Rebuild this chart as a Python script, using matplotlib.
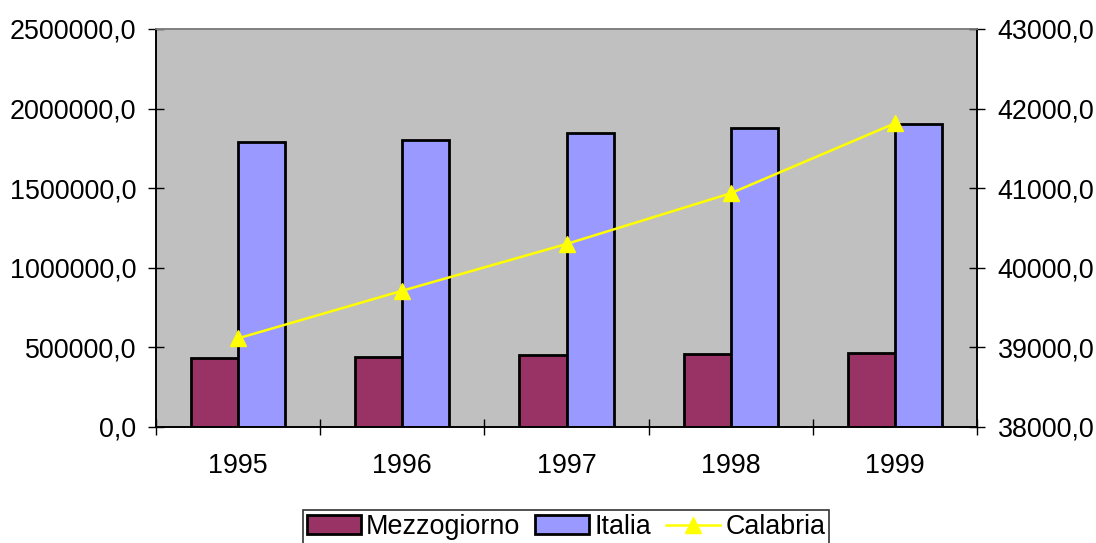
import matplotlib
matplotlib.use("Agg")
import matplotlib.pyplot as plt
import numpy as np
from matplotlib.ticker import FuncFormatter, FixedLocator

years = ["1995", "1996", "1997", "1998", "1999"]
mezzogiorno = [433400, 437800, 450300, 460400, 466700]
italia = [1788300, 1804700, 1844800, 1876000, 1905200]
calabria = [39114, 39712, 40299, 40936, 41815]

plt.rcParams['font.family'] = ['Liberation Sans', 'DejaVu Sans']
FS = 19.4

fig = plt.figure(figsize=(10.96, 5.43), dpi=100)
ax = fig.add_axes([156/1096, 1-427/543, (977-156)/1096, (427-29)/543])
ax.set_facecolor('#C0C0C0')

x = np.arange(len(years))
w = 0.287
ax.bar(x - w/2, mezzogiorno, w, color='#993366', edgecolor='black', linewidth=2.0, label='Mezzogiorno', zorder=2)
ax.bar(x + w/2, italia, w, color='#9999FF', edgecolor='black', linewidth=2.0, label='Italia', zorder=2)
ax.set_xlim(-0.5, len(years) - 0.5)
ax.set_ylim(0, 2500000)
ax.set_yticks(np.arange(0, 2500001, 500000))
fmt = FuncFormatter(lambda v, p: f"{v:.1f}".replace('.', ','))
ax.yaxis.set_major_formatter(fmt)
ax.set_xticks(x)
ax.set_xticklabels(years)
ax.xaxis.set_minor_locator(FixedLocator(np.arange(-0.5, len(years), 1.0)))
ax.tick_params(axis='x', which='major', length=0, pad=19, labelsize=FS)
ax.tick_params(axis='x', which='minor', length=12, direction='inout', width=1)
ax.tick_params(axis='y', length=12, direction='inout', width=1, labelsize=FS, pad=8)

ax2 = ax.twinx()
ax2.plot(x, calabria, color='#FFFF00', linewidth=1.8, marker='^', markersize=11, label='Calabria', zorder=3)
ax2.set_ylim(38000, 43000)
ax2.set_yticks(np.arange(38000, 43001, 1000))
ax2.yaxis.set_major_formatter(fmt)
ax2.tick_params(axis='y', length=12, direction='inout', width=1, labelsize=FS, pad=9)

for a in (ax, ax2):
    for s in ('left', 'bottom', 'right'):
        a.spines[s].set_color('black')
        a.spines[s].set_linewidth(1.2)
    a.spines['top'].set_color('#808080')
    a.spines['top'].set_linewidth(1.2)

h1, l1 = ax.get_legend_handles_labels()
h2, l2 = ax2.get_legend_handles_labels()
leg = fig.legend(h1 + h2, l1 + l2, loc='upper center', bbox_to_anchor=(566/1096, 1-510/543),
                 ncol=3, fontsize=FS, frameon=True, fancybox=False, shadow=False,
                 handlelength=2.0, handletextpad=0.2, columnspacing=0.55,
                 borderpad=0.15, borderaxespad=0)
leg.get_frame().set_edgecolor('black')
leg.get_frame().set_linewidth(1.2)

fig.savefig('out.png', dpi=100)
